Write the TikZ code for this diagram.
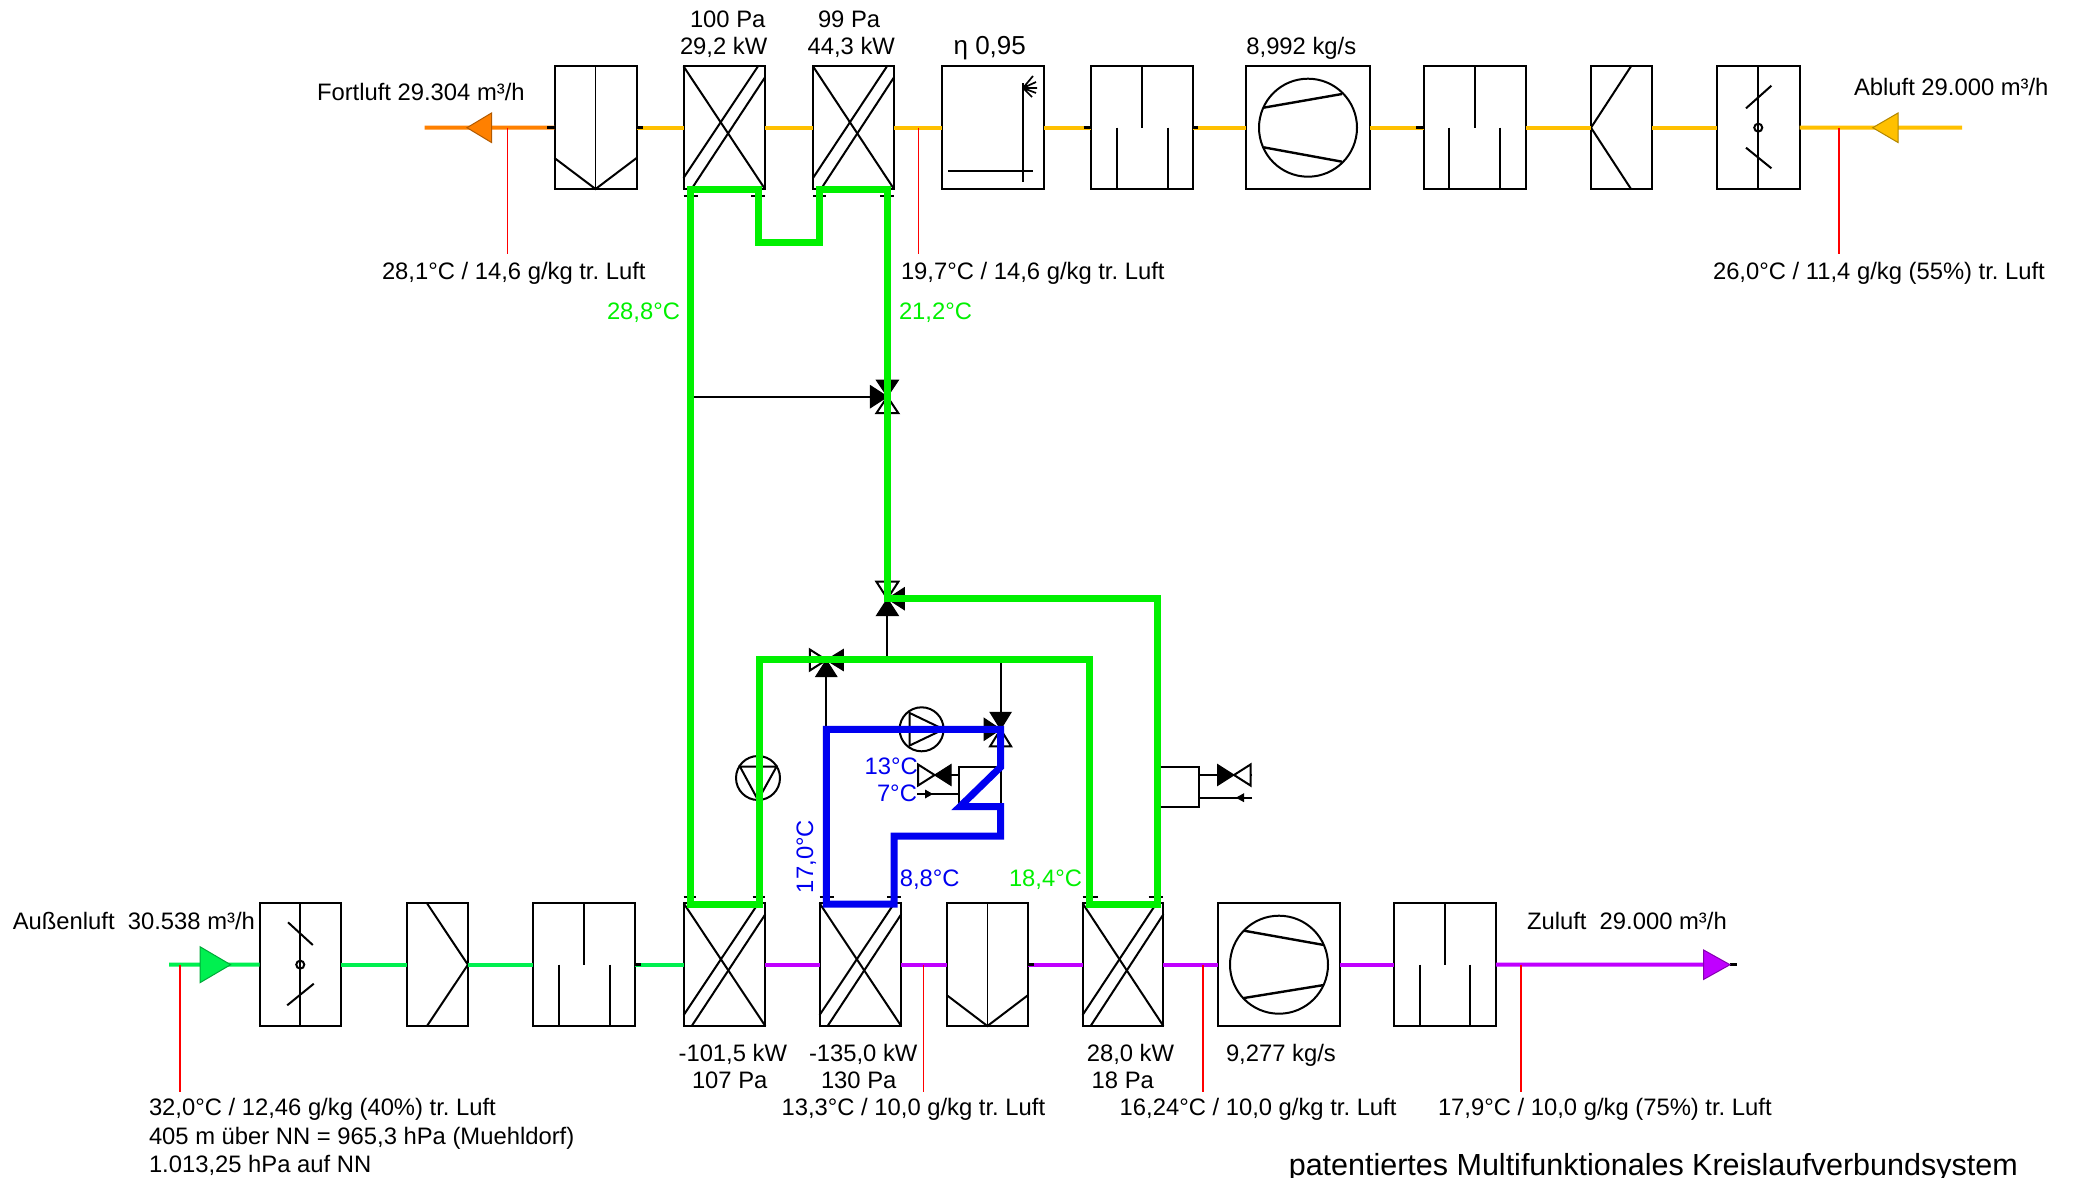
\documentclass[tikz,border=0pt]{standalone}
\usepackage{fontspec}
\setmainfont{Liberation Sans}
\frenchspacing
\definecolor{airY}{HTML}{FFC000}
\definecolor{airO}{HTML}{FF8000}
\definecolor{airG}{HTML}{00F050}
\definecolor{airP}{HTML}{C000FF}
\definecolor{pipeG}{HTML}{00F000}
\definecolor{pipeB}{HTML}{0000F0}
\tikzset{
  unit/.style={draw=black,line width=2pt,inner sep=0pt,outer sep=0pt,fill=white},
  sym/.style={draw=black,line width=2pt},
  fine/.style={draw=black,line width=1.7pt},
  ctl/.style={draw=black,line width=2pt},
  air/.style={line width=4pt},
  pipegreen/.style={draw=pipeG,line width=7pt},
  pipeblue/.style={draw=pipeB,line width=7pt},
  probe/.style={draw=red,line width=1.8pt},
  lbl/.style={anchor=base west,inner sep=0pt,outer sep=0pt,font=\fontsize{23.8}{28}\selectfont},
  tickmark/.style={draw=black,line width=2pt},
  stub/.style={draw=black,line width=3.5pt},
  vw/.style={draw=black,line width=2pt,fill=white},
  vb/.style={draw=black,line width=1pt,fill=black},
}
% #1 name, #2 x0, #3 y0, #4 x1, #5 y1
\newcommand{\unitbox}[5]{\node[unit,minimum width={(#4-#2)*1pt},minimum height={(#5-#3)*1pt}] (#1) at ({(#2+#4)/2},{(#3+#5)/2}) {};}
\newcommand{\hxunit}[5]{\unitbox{#1}{#2}{#3}{#4}{#5}
  \draw[sym] (#2,#3) -- (#4,#5);
  \draw[sym] (#2,{#5-11}) -- ({#4-7},#3);
  \draw[sym] ({#2+8},#5) -- (#4,{#3+11});}
\newcommand{\silencer}[5]{\unitbox{#1}{#2}{#3}{#4}{#5}
  \draw[sym] ({(#2+#4)/2},#3) -- ({(#2+#4)/2},{(#3+#5)/2});
  \draw[sym] ({#2+(#4-#2)/4},{(#3+#5)/2}) -- ({#2+(#4-#2)/4},#5);
  \draw[sym] ({#4-(#4-#2)/4},{(#3+#5)/2}) -- ({#4-(#4-#2)/4},#5);}
\newcommand{\bagfilter}[5]{\unitbox{#1}{#2}{#3}{#4}{#5}
  \draw[fine] ({(#2+#4)/2},#3) -- ({(#2+#4)/2},#5);
  \draw[sym] (#2,{#5-31}) -- ({(#2+#4)/2},#5) -- (#4,{#5-31});}
\newcommand{\damper}[5]{\unitbox{#1}{#2}{#3}{#4}{#5}
  \draw[fine] ({(#2+#4)/2},#3) -- ({(#2+#4)/2},#5);
  \draw[sym] ({(#2+#4)/2},{(#3+#5)/2}) circle[radius=4];}
% triangles of a valve: centre #1,#2
\newcommand{\tri}[7]{\path[#1] (#2,#3) -- ({#2+#4},{#3+#5}) -- ({#2+#6},{#3+#7}) -- cycle;}
\begin{document}
\begin{tikzpicture}[x=1pt,y=-1pt]
\useasboundingbox (0,0) rectangle (2073,1178);
\fill[white] (0,0) rectangle (2073,1178);

% ---------- top row units
\bagfilter{ftop}{554.5}{66.3}{636.6}{189}
\hxunit{hxa}{683.5}{66.3}{765}{189}
\hxunit{hxb}{813}{66.3}{894}{189}
\unitbox{eta}{941.5}{66.3}{1043.8}{189}
\draw[sym] (1023,83) -- (1023,181.7);
\draw[sym] (948,171) -- (1033,171);
\draw[fine] (1023,88) -- (1033,76) (1023,88) -- (1036,82) (1023,88) -- (1037,88) (1023,88) -- (1036,93) (1023,88) -- (1032,97);
\silencer{sla}{1091}{66.3}{1193}{189}
\unitbox{fantop}{1246.4}{66.3}{1369.6}{189}
\node[draw=black,line width=2pt,circle,minimum size=98pt,inner sep=0pt,outer sep=0pt] (fanwheela) at (1308,127.7) {};
\draw[line width=2.4pt] (1263.5,107.7) -- (1342,94);
\draw[line width=2.4pt] (1263.5,147.3) -- (1342,161.7);
\silencer{slb}{1423.7}{66.3}{1525.7}{189}
\unitbox{vtop}{1590.7}{66.3}{1652}{189}
\draw[sym] (1631,66.3) -- (1591,127.7) -- (1631,189);
\damper{dtop}{1717}{66.3}{1799.5}{189}
\draw[sym] (1771.4,85.7) -- (1746,108.3);
\draw[sym] (1746,147.7) -- (1771.4,168.3);

% ---------- bottom row units
\damper{dbot}{259.7}{903.3}{340.8}{1026}
\draw[sym] (288,922.3) -- (312.8,945);
\draw[sym] (287.2,1005.3) -- (313.8,983.7);
\unitbox{vbot}{406.6}{903.3}{467.9}{1026}
\draw[sym] (427,903.3) -- (467.9,964.7) -- (427,1026);
\silencer{slc}{533}{903.3}{635}{1026}
\hxunit{hxc}{683.7}{903.3}{765.3}{1026}
\hxunit{hxd}{819.6}{903.3}{901.2}{1026}
\bagfilter{fbot}{946.6}{903.3}{1028.2}{1026}
\hxunit{hxe}{1082.6}{903.3}{1163.4}{1026}
\unitbox{fanbot}{1217.9}{903.3}{1340}{1026}
\node[draw=black,line width=2pt,circle,minimum size=98pt,inner sep=0pt,outer sep=0pt] (fanwheelb) at (1279,964.7) {};
\draw[line width=2.4pt] (1244,930.7) -- (1324,945);
\draw[line width=2.4pt] (1244,998) -- (1324,985);
\silencer{sld}{1394.3}{903.3}{1495.8}{1026}

% ---------- air lines
\coordinate (olin) at (424.5,127.7);
\coordinate (ylin) at (1962,127.7);
\coordinate (glin) at (169,964.7);
\coordinate (plin) at (1704,964.7);
\draw[air,airO] (olin) -- (ftop.west);
\foreach \a/\b in {ftop/hxa,hxa/hxb,hxb/eta,eta/sla,sla/fantop,fantop/slb,slb/vtop,vtop/dtop}
  \draw[air,airY] (\a.east) -- (\b.west);
\draw[air,airY] (dtop.east) -- (ylin);
\draw[air,airG] (glin) -- (dbot.west);
\foreach \a/\b in {dbot/vbot,vbot/slc,slc/hxc}
  \draw[air,airG] (\a.east) -- (\b.west);
\foreach \a/\b in {hxc/hxd,hxd/fbot,fbot/hxe,hxe/fanbot,fanbot/sld}
  \draw[air,airP] (\a.east) -- (\b.west);
\draw[air,airP] (sld.east) -- (plin);
% black stubs
\draw[stub] (547,127.7) -- (554.5,127.7);
\draw[stub] (636.6,127.7) -- (643,127.7);
\draw[stub] (1083.5,127.7) -- (1091,127.7);
\draw[stub] (1193,127.7) -- (1198,127.7);
\draw[stub] (1416,127.7) -- (1423.7,127.7);
\draw[stub] (635,964.7) -- (641,964.7);
\draw[stub] (1028.2,964.7) -- (1034,964.7);
\draw[stub] (1730,964.7) -- (1736.5,964.7);
% flow arrows
\path[draw=airO!70!black,line width=1pt,fill=airO] (467,127.7) -- (491.5,113) -- (491.5,142.5) -- cycle;
\path[draw=airY!70!black,line width=1pt,fill=airY] (1872.7,127.7) -- (1898,113) -- (1898,142.5) -- cycle;
\path[draw=airG!70!black,line width=1pt,fill=airG] (230.6,964.7) -- (200,946.7) -- (200,982.7) -- cycle;
\path[draw=airP!70!black,line width=1pt,fill=airP] (1730,964.7) -- (1703.6,950) -- (1703.6,979.4) -- cycle;

% ---------- probes
\foreach \n/\x/\a/\b in {pa/507.5/127.7/254,pb/918.5/127.7/254,pc/1839/127.7/254,pd/179.6/964.7/1091.7,pe/923.5/964.7/1091.7,pf/1203/964.7/1091.7,pg/1521.3/964.7/1091.7}{
  \coordinate (\n a) at (\x,\a);
  \coordinate (\n b) at (\x,\b);
  \draw[probe] (\n a) -- (\n b);
}

% ---------- connection ticks
\foreach \p/\q/\r in {683.5/698/195.7,751/765/195.7,813/826/195.7,880/894/195.7,683.7/696/896.9,752.5/765.3/896.9,819.6/834/896.9,887/901.2/896.9,1082.6/1097.5/896.9,1148.6/1163.4/896.9}
  \draw[tickmark] (\p,\r) -- (\q,\r);

% ---------- control lines
\coordinate (vA) at (887.4,396.7);
\coordinate (vB) at (887.4,598.7);
\coordinate (vC) at (826.3,660);
\coordinate (vD) at (1000.6,729.3);
\coordinate (ctlA) at (690.6,396.7);
\coordinate (ctlB) at (887.4,659.7);
\coordinate (ctlD) at (1000.6,659.7);
\coordinate (ctlC) at (826.3,729.3);
\draw[ctl] (ctlA) -- (vA);
\draw[ctl] (ctlB) -- (vB);
\draw[ctl] (ctlD) -- (vD);
\draw[ctl] (ctlC) -- (vC);

% valve A
\tri{vb}{887.4}{396.7}{-11}{-16.5}{11}{-16.5}
\tri{vw}{887.4}{396.7}{-11}{16.5}{11}{16.5}
\tri{vb}{887.4}{396.7}{-17}{-11}{-17}{11}
% valve B
\tri{vw}{887.4}{598.7}{-11}{-17}{11}{-17}
\tri{vb}{887.4}{598.7}{-11}{17}{11}{17}
\tri{vb}{887.4}{598.7}{17}{-11}{17}{11}
% valve C
\tri{vw}{826.3}{660}{-16.5}{-10.5}{-16.5}{10.5}
\tri{vb}{826.3}{660}{17}{-10.5}{17}{10.5}
\tri{vb}{826.3}{660}{-10.5}{16.5}{10.5}{16.5}
% valve D
\tri{vb}{1000.6}{729.3}{-10.5}{-17}{10.5}{-17}
\tri{vw}{1000.6}{729.3}{-10.5}{17}{10.5}{17}
\tri{vb}{1000.6}{729.3}{-16.5}{-11}{-16.5}{11}

% pumps
\node[draw=black,line width=2pt,circle,minimum size=44pt,inner sep=0pt,outer sep=0pt] (pumpa) at (921.6,729.3) {};
\draw[sym] (909.7,713) -- (943.6,729.3) -- (909.7,745.5) -- cycle;
\node[draw=black,line width=2pt,circle,minimum size=44pt,inner sep=0pt,outer sep=0pt] (pumpb) at (758,778) {};
\draw[sym] (740,766.7) -- (776.5,766.7) -- (758,800) -- cycle;

% coolers
\unitbox{coola}{959}{767}{1001}{806.7}
\unitbox{coolb}{1160}{767.3}{1199.4}{806.7}
\coordinate (wa) at (918,775);
\coordinate (wb) at (917,794);
\coordinate (wc) at (1252,775);
\coordinate (wd) at (1252,797.7);
\draw[ctl] (wa) -- (coola.west |- wa);
\draw[ctl] (wb) -- (coola.west |- wb);
\draw[ctl] (wc) -- (coolb.east |- wc);
\draw[ctl] (wd) -- (coolb.east |- wd);
\path[fill=black] (933,794) -- (925,789.5) -- (925,798.5) -- cycle;
\path[fill=black] (1235.8,797.7) -- (1244,793.2) -- (1244,802.2) -- cycle;
\tri{vw}{934.6}{775}{-16.5}{-10.5}{-16.5}{10.5}
\tri{vb}{934.6}{775}{16.5}{-10.5}{16.5}{10.5}
\tri{vb}{1234}{775}{-16.5}{-10.5}{-16.5}{10.5}
\tri{vw}{1234}{775}{16.5}{-10.5}{16.5}{10.5}

% ---------- heating loops
\coordinate (g1) at (690.6,904);
\coordinate (g2) at (690.6,189);
\coordinate (g3) at (758.5,189);
\coordinate (g4) at (758.5,242);
\coordinate (g5) at (819.6,242);
\coordinate (g6) at (819.6,189);
\coordinate (g7) at (887.4,189);
\coordinate (g8) at (759,904);
\coordinate (g9) at (759,659.7);
\coordinate (g10) at (1089,659.7);
\coordinate (g11) at (1089,904);
\coordinate (g12) at (1157.7,904);
\coordinate (g13) at (1157.7,598.7);
\draw[pipegreen] (g8) -- (g1) -- (g2) -- (g3) -- (g4) -- (g5) -- (g6) -- (g7) -- (vB) -- (g13) -- (g12) -- (g11) -- (g10) -- (g9) -- cycle;
\coordinate (b1) at (826.3,904);
\coordinate (b2) at (826.3,729.3);
\coordinate (b3) at (1000.6,767);
\coordinate (b4) at (960,806.5);
\coordinate (b5) at (1000.6,806.5);
\coordinate (b6) at (1000.6,836);
\coordinate (b7) at (894,836);
\coordinate (b8) at (894,904);
\draw[pipeblue] (b1) -- (b2) -- (vD) -- (b3) -- (b4) -- (b5) -- (b6) -- (b7) -- (b8) -- cycle;

% ---------- texts
\node[lbl] (t1) at (317,100) {Fortluft 29.304 m³/h};
\node[lbl] (t2) at (690,27) {100 Pa};
\node[lbl] (t3) at (680,54) {29,2 kW};
\node[lbl] (t4) at (818,27) {99 Pa};
\node[lbl] (t5) at (807.6,54) {44,3 kW};
\node[lbl,font=\fontsize{26}{30}\selectfont] (t6) at (953.6,54) {η 0,95};
\node[lbl] (t7) at (1246.4,54) {8,992 kg/s};
\node[lbl] (t8) at (1854,95) {Abluft 29.000 m³/h};
\node[lbl] (t9) at (382,279) {28,1°C / 14,6 g/kg tr. Luft};
\node[lbl] (t10) at (901,279) {19,7°C / 14,6 g/kg tr. Luft};
\node[lbl] (t11) at (1713,279) {26,0°C / 11,4 g/kg (55\%) tr. Luft};
\node[lbl,text=pipeG] (t12) at (607,319) {28,8°C};
\node[lbl,text=pipeG] (t13) at (899,319) {21,2°C};
\node[lbl] (t14) at (12.8,929) {Außenluft\ \ 30.538 m³/h};
\node[lbl] (t15) at (678.6,1061) {-101,5 kW};
\node[lbl] (t16) at (692,1088) {107 Pa};
\node[lbl] (t17) at (149,1115) {32,0°C / 12,46 g/kg (40\%) tr. Luft};
\node[lbl] (t18) at (149,1144) {405 m über NN = 965,3 hPa (Muehldorf)};
\node[lbl] (t19) at (149,1172) {1.013,25 hPa auf NN};
\node[lbl] (t20) at (809,1061) {-135,0 kW};
\node[lbl] (t21) at (821,1088) {130 Pa};
\node[lbl] (t22) at (781.6,1115) {13,3°C / 10,0 g/kg tr. Luft};
\node[lbl] (t23) at (1086.8,1061) {28,0 kW};
\node[lbl] (t24) at (1091.7,1088) {18 Pa};
\node[lbl] (t25) at (1226,1061) {9,277 kg/s};
\node[lbl] (t26) at (1119.7,1115) {16,24°C / 10,0 g/kg tr. Luft};
\node[lbl] (t27) at (1438,1115) {17,9°C / 10,0 g/kg (75\%) tr. Luft};
\node[lbl] (t28) at (1527,929) {Zuluft\ \ 29.000 m³/h};
\node[lbl,font=\fontsize{30.5}{34}\selectfont] (t29) at (1288.8,1175) {patentiertes Multifunktionales Kreislaufverbundsystem};
\node[lbl,text=pipeB] (t30) at (864.6,774) {13°C};
\node[lbl,text=pipeB] (t31) at (877,801.7) {7°C};
\node[lbl,text=pipeB] (t32) at (899.8,886) {8,8°C};
\node[lbl,text=pipeG] (t33) at (1009,886) {18,4°C};
\node[lbl,text=pipeB,rotate=90] (t34) at (813,893) {17,0°C};
\end{tikzpicture}
\end{document}
